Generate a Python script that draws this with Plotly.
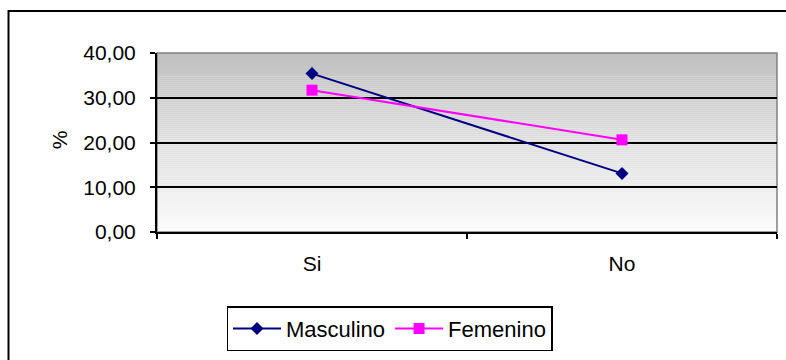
import plotly.graph_objects as go

# Data
categories = ["Si", "No"]
masculino = [35.4, 13.1]
femenino = [31.7, 20.6]
y_ticks = [0, 10, 20, 30, 40]

FONT = "Liberation Sans, Arial, sans-serif"
FS = 21

fig = go.Figure()
fig.add_trace(go.Scatter(
    x=categories, y=masculino, name="Masculino", mode="lines+markers",
    line=dict(color="#000080", width=2),
    marker=dict(symbol="diamond", size=10, color="#000080"),
))
fig.add_trace(go.Scatter(
    x=categories, y=femenino, name="Femenino", mode="lines+markers",
    line=dict(color="#ff00ff", width=2),
    marker=dict(symbol="square", size=11, color="#ff00ff"),
))

shapes = []
# vertical gray gradient behind the plot area
n_bands = 90
top_c, bot_c = 192, 252
for i in range(n_bands):
    f = (i + 0.5) / n_bands
    c = round(bot_c + (top_c - bot_c) * f)
    shapes.append(dict(
        type="rect", xref="paper", yref="paper",
        x0=0, x1=1, y0=i / n_bands, y1=(i + 1) / n_bands,
        fillcolor=f"rgb({c},{c},{c})", line=dict(width=0), layer="below",
    ))
# plot area frame (gray top/right edges)
shapes.append(dict(type="rect", xref="paper", yref="paper", x0=0, x1=1, y0=0, y1=1,
                   line=dict(color="#808080", width=1.5), layer="below"))
# outer chart border
shapes.append(dict(type="rect", xref="paper", yref="paper",
                   x0=-0.2395, x1=1.2, y0=-0.9, y1=1.2346,
                   line=dict(color="black", width=2), layer="above"))

fig.update_layout(
    width=786, height=360,
    margin=dict(l=157, r=9, t=53, b=128, pad=0),
    paper_bgcolor="white",
    plot_bgcolor="rgba(0,0,0,0)",
    separators=",.",
    font=dict(family=FONT, size=FS, color="black"),
    showlegend=True,
    legend=dict(
        orientation="h", x=0.375, xanchor="center", y=-0.415, yanchor="top",
        bordercolor="black", borderwidth=1.5, bgcolor="white",
        font=dict(family=FONT, size=22, color="black"),
        itemwidth=48, tracegroupgap=0,
    ),
    shapes=shapes,
    annotations=[dict(
        text="%", xref="paper", yref="paper", x=-0.156, y=0.514,
        showarrow=False, textangle=-90, font=dict(family=FONT, size=FS),
        xanchor="center", yanchor="middle",
    )],
)

fig.update_xaxes(
    type="category", categoryorder="array", categoryarray=categories,
    range=[-0.5, len(categories) - 0.5],
    tickson="boundaries", ticks="outside", ticklen=5, tickwidth=1.5, tickcolor="black",
    showline=True, linecolor="black", linewidth=2, showgrid=False, zeroline=False,
    ticklabelstandoff=12, fixedrange=True,
)
fig.update_yaxes(
    range=[0, 40], tickvals=y_ticks, tickformat=".2f",
    ticks="outside", ticklen=5, tickwidth=1.5, tickcolor="black",
    showline=True, linecolor="black", linewidth=2,
    showgrid=True, gridcolor="black", gridwidth=1.5, zeroline=False,
    ticklabelstandoff=10, fixedrange=True,
)

fig.write_html("out.html")
